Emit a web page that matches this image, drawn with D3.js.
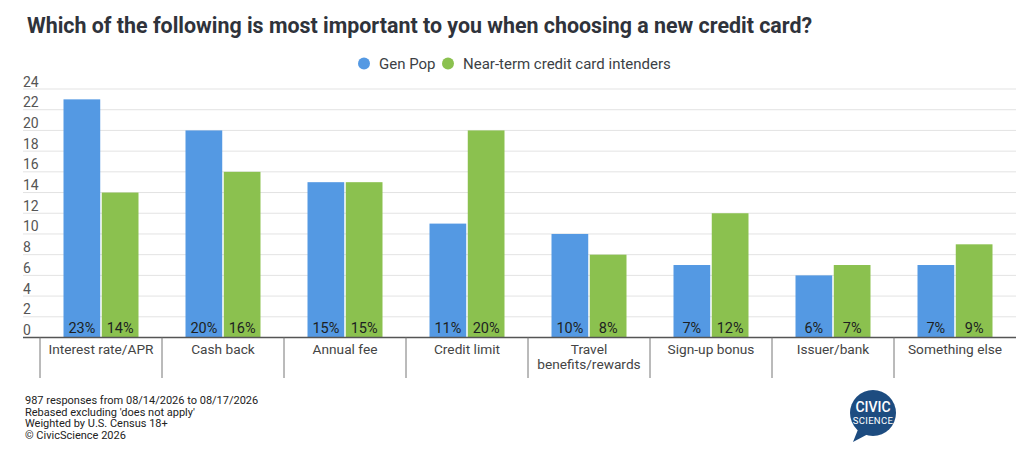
<!DOCTYPE html>
<html><head><meta charset="utf-8">
<script src="https://cdn.jsdelivr.net/npm/d3@7"></script>
<style>
body{margin:0;background:#fff;}
svg{display:block;font-family:Roboto,"Noto Sans",sans-serif;}
</style></head>
<body>
<svg id="c" width="1024" height="450"></svg>
<script>
const categories = ["Interest rate/APR","Cash back","Annual fee","Credit limit","Travel benefits/rewards","Sign-up bonus","Issuer/bank","Something else"];
const categoryLines = [["Interest rate/APR"],["Cash back"],["Annual fee"],["Credit limit"],["Travel","benefits/rewards"],["Sign-up bonus"],["Issuer/bank"],["Something else"]];
const seriesNames = ["Gen Pop","Near-term credit card intenders"];
const genPop = [23,20,15,11,10,7,6,7];
const intenders = [14,16,15,20,8,12,7,9];
const yTicks = [0,2,4,6,8,10,12,14,16,18,20,22,24];
const notes = ["987 responses from 08/14/2026 to 08/17/2026","Rebased excluding 'does not apply'","Weighted by U.S. Census 18+","\u00A9 CivicScience 2026"];
const colors = ["#5499e3","#8bc14f"];

const svg = d3.select("#c");
const plotLeft = 40, plotRight = 1016, plotTop = 89, plotBottom = 337.5;

const x = d3.scaleBand().domain(categories).range([plotLeft, plotRight]).paddingInner(0).paddingOuter(0);
const x1 = d3.scaleBand().domain(seriesNames).range([0, 75]).paddingInner(0.04);
const y = d3.scaleLinear().domain([0,24]).range([plotBottom, plotTop]);

// title
svg.append("text").attr("x",27).attr("y",33).attr("font-size",21.4).attr("font-weight",700)
  .attr("fill","#2f333b").text("Which of the following is most important to you when choosing a new credit card?");

// legend
const leg = svg.append("g");
const legItems = [{x:364,name:seriesNames[0],c:colors[0]},{x:448,name:seriesNames[1],c:colors[1]}];
legItems.forEach(d=>{
  leg.append("circle").attr("cx",d.x).attr("cy",63.5).attr("r",6).attr("fill",d.c);
  leg.append("text").attr("x",d.x+15).attr("y",68.5).attr("font-size",15).attr("fill","#3c3f45").text(d.name);
});

// gridlines & y labels
yTicks.forEach(t=>{
  if(t>0) svg.append("line").attr("x1",23).attr("x2",plotRight).attr("y1",y(t)).attr("y2",y(t))
    .attr("stroke","#e3e3e3").attr("stroke-width",1);
  svg.append("text").attr("x",23).attr("y",y(t)-2.5).attr("font-size",14).attr("fill","#555")
    .text(t);
});

// bars
const data = categories.map((c,i)=>({cat:c, vals:[genPop[i], intenders[i]]}));
const groups = svg.append("g").selectAll("g").data(data).join("g")
  .attr("transform", d=>`translate(${x(d.cat)+ (x.bandwidth()-75)/2},0)`);
groups.selectAll("rect").data(d=>d.vals.map((v,k)=>({k,v}))).join("rect")
  .attr("x",d=>x1(seriesNames[d.k])).attr("width",x1.bandwidth())
  .attr("y",d=>y(d.v)).attr("height",d=>plotBottom-y(d.v)).attr("fill",d=>colors[d.k]);
groups.selectAll("text.v").data(d=>d.vals.map((v,k)=>({k,v}))).join("text").attr("class","v")
  .attr("x",d=>x1(seriesNames[d.k])+x1.bandwidth()/2).attr("y",plotBottom-5)
  .attr("text-anchor","middle").attr("font-size",14.5).attr("fill","#1d1f22").text(d=>d.v+"%");

// x axis line
svg.append("line").attr("x1",23).attr("x2",plotRight).attr("y1",plotBottom).attr("y2",plotBottom)
  .attr("stroke","#555").attr("stroke-width",1.5);
// dividers
categories.forEach((c,i)=>{
  svg.append("line").attr("x1",x(c)).attr("x2",x(c)).attr("y1",plotBottom).attr("y2",378)
    .attr("stroke","#777").attr("stroke-width",1);
});
// category labels
categories.forEach((c,i)=>{
  const t = svg.append("text").attr("x",x(c)+x.bandwidth()/2).attr("y",353.5)
    .attr("text-anchor","middle").attr("font-size",13.7).attr("fill","#444");
  categoryLines[i].forEach((ln,j)=>t.append("tspan").attr("x",x(c)+x.bandwidth()/2).attr("dy",j?15:0).text(ln));
});

// notes
notes.forEach((n,i)=>svg.append("text").attr("x",25).attr("y",404+i*11.7).attr("font-size",11)
  .attr("fill","#222").text(n));

// logo
const lg = svg.append("g").attr("transform","translate(873,413)");
lg.append("path").attr("d","M-14,14 L-20,29 L-3,20 Z").attr("fill","#1d4c80");
lg.append("circle").attr("r",23).attr("fill","#1d4c80");
lg.append("text").attr("y",-1).attr("text-anchor","middle").attr("font-size",14).attr("font-weight",500)
  .attr("fill","#fff").text("CIVIC");
lg.append("text").attr("y",11).attr("text-anchor","middle").attr("font-size",9.5).attr("font-weight",400)
  .attr("letter-spacing",0.3).attr("fill","#fff").text("SCIENCE");
</script>
</body></html>
